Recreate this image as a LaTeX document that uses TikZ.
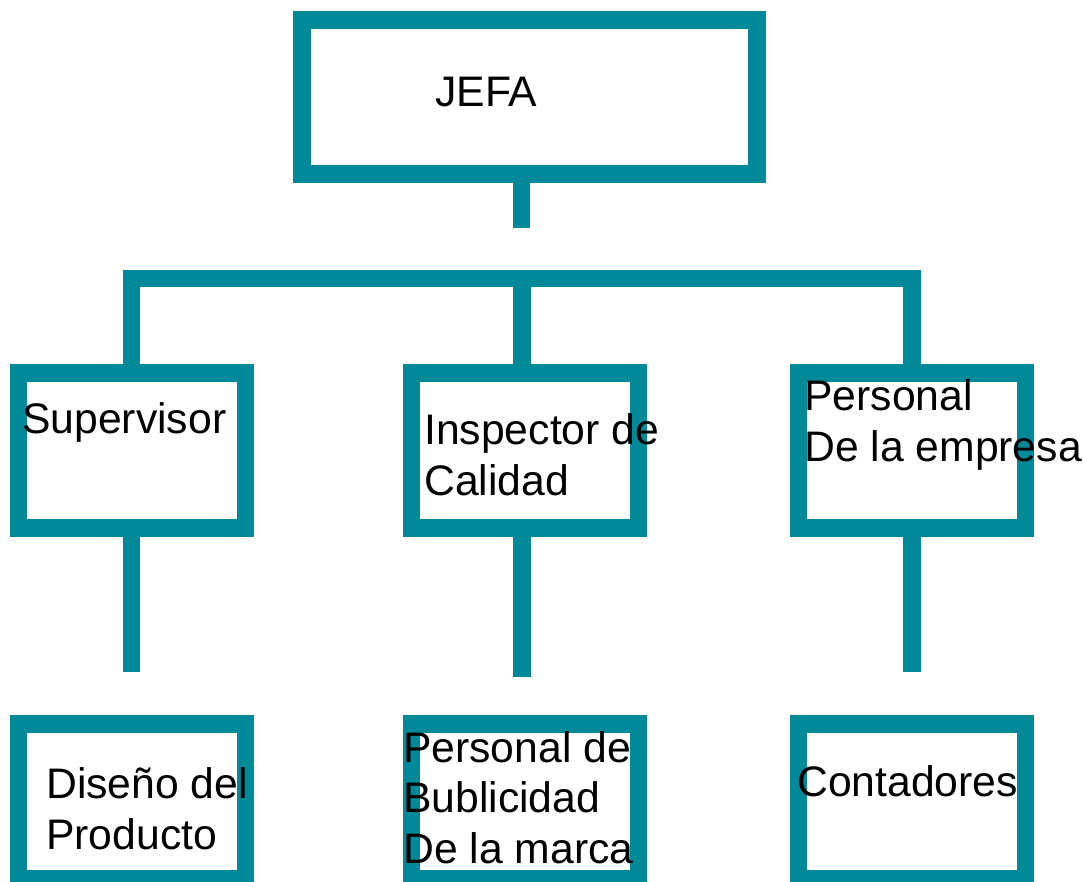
\documentclass[tikz,border=0pt]{standalone}
\usepackage{fontspec}
\setmainfont{Liberation Sans}
\usepackage{tikz}
\definecolor{petroleo}{HTML}{008A99}
\tikzset{
  caja/.style={draw=petroleo, line width=17.5pt, rectangle, inner sep=0pt,
    minimum width=227pt, minimum height=155pt},
  linea/.style={draw=petroleo, line width=17.5pt},
  texto/.style={anchor=base west, inner sep=0pt, align=left,
    font=\fontsize{42.7}{50.5}\selectfont}
}

\begin{document}
\begin{tikzpicture}[x=1pt,y=-1pt]
		%%%%% START %%%%%
		\useasboundingbox (0,0) rectangle (1083,881);

		% cajas
		\node[caja, minimum width=455pt, minimum height=154pt] (jefa) at (529.5,97) {};
		\node[caja] (sup) at (131.75,450.5) {};
		\node[caja] (insp) at (525,450.5) {};
		\node[caja] (pers) at (911.75,450.5) {};
		\node[caja] (dis) at (131.75,801.5) {};
		\node[caja] (publ) at (525,801.5) {};
		\node[caja] (cont) at (911.75,801.5) {};

		% ramas
		\coordinate (tallo) at (521.5,228);
		\coordinate (ramaI) at (131.5,278.5);
		\coordinate (ramaC) at (522,278.5);
		\coordinate (ramaD) at (912,278.5);
		\coordinate (bajoI) at (131.5,672);
		\coordinate (bajoC) at (522,677);
		\coordinate (bajoD) at (912,672);

		\draw[linea] (jefa.south -| tallo) -- (tallo);
		\draw[linea] (ramaI |- sup.north) -- (ramaI) -- (ramaD) -- (ramaD |- pers.north);
		\draw[linea] (ramaC) -- (ramaC |- insp.north);

		\draw[linea] (ramaI |- sup.south) -- (bajoI);
		\draw[linea] (ramaC |- insp.south) -- (bajoC);
		\draw[linea] (ramaD |- pers.south) -- (bajoD);

		% textos (base de la ultima linea)
		\node[texto] (tjefa) at (435,106) {JEFA};
		\node[texto] (tsup) at (22,433) {Supervisor};
		\node[texto] (tinsp) at (424,495) {Inspector de\\Calidad};
		\node[texto] (tpers) at (804,461) {Personal\\De la empresa};
		\node[texto] (tdis) at (46,849) {Diseño del\\Producto};
		\node[texto] (tpubl) at (403,863) {Personal de\\Bublicidad\\De la marca};
		\node[texto] (tcont) at (797,796) {Contadores};

		%%%%% END %%%%%
\end{tikzpicture}
\end{document}
